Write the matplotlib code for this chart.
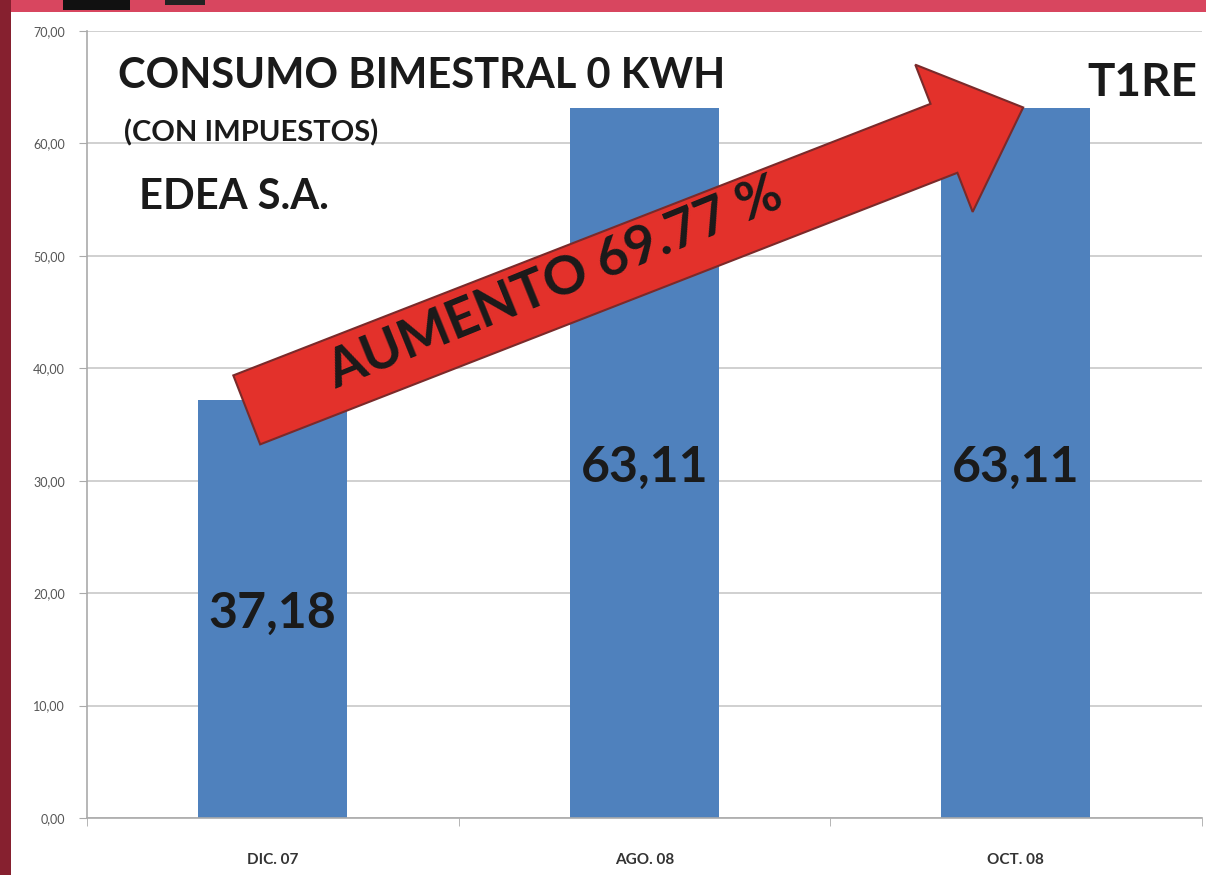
import numpy as np
import matplotlib
matplotlib.use("Agg")
import matplotlib.pyplot as plt
from matplotlib.patches import Polygon, Rectangle
from matplotlib.transforms import IdentityTransform

categories = ["DIC. 07", "AGO. 08", "OCT. 08"]
values = [37.18, 63.11, 63.11]
value_labels = ["37,18", "63,11", "63,11"]
yticks = [0, 10, 20, 30, 40, 50, 60, 70]
ytick_labels = ["0,00", "10,00", "20,00", "30,00", "40,00", "50,00", "60,00", "70,00"]
title = "CONSUMO BIMESTRAL 0 KWH"
subtitle = "(CON IMPUESTOS)"
company = "EDEA S.A."
tariff = "T1RE"
arrow_text = "AUMENTO 69.77 %"

W, H = 1206, 875
DPI = 100
FONT = "Lato"

fig = plt.figure(figsize=(W / DPI, H / DPI), dpi=DPI)
fig.patch.set_facecolor("white")

def fx(px):
    return px / W

def fy(py):
    return 1 - py / H

ax = fig.add_axes([fx(87), fy(818), fx(1201.5) - fx(87), fy(31) - fy(818)])
ax.set_facecolor("white")
x = np.arange(len(categories))
ax.bar(x, values, width=0.4, color="#4F81BD", zorder=2)
ax.set_xlim(-0.5, 2.5)
ax.set_ylim(0, 70)
ax.set_yticks(yticks)
ax.set_yticklabels(ytick_labels, fontsize=9, color="#555555", family=FONT)
ax.yaxis.grid(True, color="#C8C8C8", linewidth=1.2, zorder=0)
ax.set_axisbelow(True)
ax.tick_params(axis="y", length=6, color="#AAAAAA", pad=10)
ax.set_xticks(x)
ax.set_xticklabels(categories, fontsize=11, fontweight="bold", color="#333333", family=FONT)
ax.tick_params(axis="x", length=0, pad=25)
ax.set_xticks([-0.5, 0.5, 1.5, 2.5], minor=True)
ax.tick_params(axis="x", which="minor", length=6, color="#AAAAAA")
for s in ["top", "right"]:
    ax.spines[s].set_visible(False)
ax.spines["left"].set_color("#AAAAAA")
ax.spines["bottom"].set_color("#AAAAAA")
ax.spines["left"].set_linewidth(1.2)
ax.spines["bottom"].set_linewidth(1.2)

for xi, v, lab in zip(x, values, value_labels):
    ax.text(xi, v / 2, lab, ha="center", va="center_baseline", fontsize=36,
            fontweight="bold", color="#1a1a1a", family=FONT, zorder=3)

# titles
fig.text(fx(118), fy(88), title, fontsize=30, fontweight="bold", color="#1a1a1a",
         family=FONT, ha="left", va="baseline")
fig.text(fx(124), fy(141), subtitle, fontsize=21, fontweight="bold", color="#1a1a1a",
         family=FONT, ha="left", va="baseline")
fig.text(fx(139), fy(209), company, fontsize=30, fontweight="bold", color="#1a1a1a",
         family=FONT, ha="left", va="baseline")
fig.text(fx(1087), fy(96), tariff, fontsize=33, fontweight="bold", color="#1a1a1a",
         family=FONT, ha="left", va="baseline")

# arrow in display pixels anchored on bars
fig.canvas.draw()
p0 = ax.transData.transform((-0.07, 36.3))
p1 = ax.transData.transform((2.02, 63.2))
d = p1 - p0
L = np.hypot(*d)
u = d / L
n = np.array([-u[1], u[0]])
shaft_w = 74
head_w = 158
head_l = 85
base = p1 - u * head_l
pts = [
    p0 + n * shaft_w / 2,
    base + n * shaft_w / 2,
    base + n * head_w / 2,
    p1,
    base - n * head_w / 2,
    base - n * shaft_w / 2,
    p0 - n * shaft_w / 2,
]
arrow = Polygon(pts, closed=True, facecolor="#E3312B", edgecolor="#7A2A2A",
                linewidth=1.5, transform=IdentityTransform(), zorder=5)
fig.patches.append(arrow)

ang = np.degrees(np.arctan2(d[1], d[0])) + 0.8
mid = p0 + d * 0.40 + n * 6
mfig = fig.transFigure.inverted().transform(mid)
fig.text(mfig[0], mfig[1], arrow_text, fontsize=39, fontweight="bold", color="#1a1a1a",
         family=FONT, ha="center", va="center", rotation=ang,
         rotation_mode="anchor", zorder=6)

# frame decorations
fig.patches.append(Rectangle((0, fy(12)), 1, 1 - fy(12), transform=fig.transFigure,
                             facecolor="#D8465F", edgecolor="none", zorder=1))
fig.patches.append(Rectangle((0, 0), fx(11), 1, transform=fig.transFigure,
                             facecolor="#86202F", edgecolor="none", zorder=1))
fig.patches.append(Rectangle((fx(63), fy(10)), fx(67), 1 - fy(10), transform=fig.transFigure,
                             facecolor="#111111", edgecolor="none", zorder=2))
fig.patches.append(Rectangle((fx(165), fy(5)), fx(40), 1 - fy(5), transform=fig.transFigure,
                             facecolor="#222222", edgecolor="none", zorder=2))

fig.savefig("out.png", dpi=DPI)
